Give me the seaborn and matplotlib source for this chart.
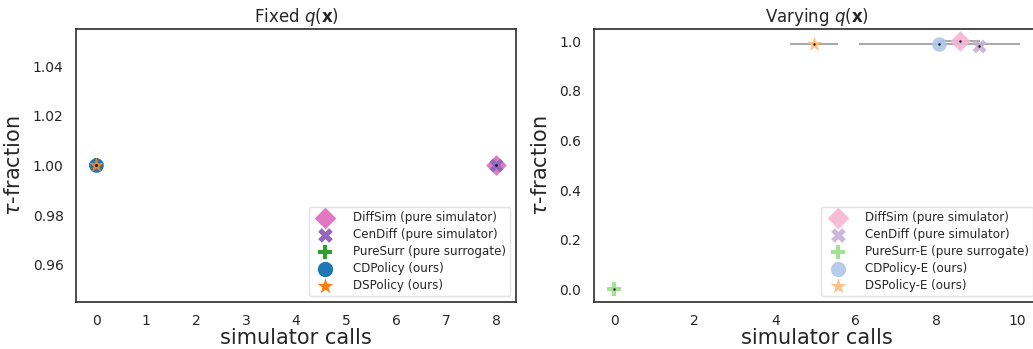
import numpy as np
import pandas as pd
import matplotlib
matplotlib.use("Agg")
import matplotlib.pyplot as plt
import seaborn as sns

# dados
metodos_fixo = ["DiffSim (pure simulator)", "CenDiff (pure simulator)",
                "PureSurr (pure surrogate)", "CDPolicy (ours)", "DSPolicy (ours)"]
x_fixo = [8, 8, 0, 0, 0]
y_fixo = [1.0, 1.0, 1.0, 1.0, 1.0]

metodos_var = ["DiffSim (pure simulator)", "CenDiff (pure simulator)",
               "PureSurr-E (pure surrogate)", "CDPolicy-E (ours)", "DSPolicy-E (ours)"]
x_var = [8.59, 9.06, 0.0, 8.07, 4.96]
y_var = [1.0, 0.981, 0.0, 0.99, 0.99]
xerr_var = [0.5, 0.05, 0.0, 2.0, 0.6]
yerr_var = [0.0, 0.01, 0.0, 0.01, 0.0]

marcadores = ["D", "X", "P", "o", "*"]
cores_fixo = ["#e377c2", "#9467bd", "#2ca02c", "#1f77b4", "#ff7f0e"]
cores_var = ["#f7b6d2", "#c5b0d5", "#98df8a", "#aec7e8", "#ffbb78"]
tamanhos = [110, 100, 100, 110, 130]

sns.set_theme(style="white")
plt.rcParams["font.family"] = ["DejaVu Sans"]

fig = plt.figure(figsize=(10.33, 3.49), dpi=100)
ax1 = fig.add_axes([0.0736, 0.135, 0.426, 0.782])
ax2 = fig.add_axes([0.575, 0.135, 0.431, 0.782])


def painel(ax, metodos, xs, ys, cores, titulo, alpha):
    df = pd.DataFrame({"metodo": metodos, "x": xs, "y": ys})
    for i, m in enumerate(metodos):
        sns.scatterplot(data=df[df["metodo"] == m], x="x", y="y",
                        color=cores[i], marker=marcadores[i], s=tamanhos[i],
                        alpha=alpha, linewidth=0, label=m, ax=ax, zorder=3 + i)
    ax.plot(xs, ys, linestyle="none", marker=".", markersize=1.5, color="k", zorder=10)
    ax.set_title(titulo, fontsize=12, pad=5)
    ax.set_xlabel("simulator calls", fontsize=15, labelpad=0)
    ax.set_ylabel(r"$\tau$-fraction", fontsize=15, labelpad=6)
    ax.tick_params(labelsize=10, pad=3)
    leg = ax.legend(loc="lower right", fontsize=8.6, markerscale=1.05,
                    handletextpad=1.3, borderpad=0.35, labelspacing=0.33)
    leg.get_frame().set_edgecolor("#dddddd")
    for s in ax.spines.values():
        s.set_color("#333333")


painel(ax1, metodos_fixo, x_fixo, y_fixo, cores_fixo, r"Fixed $q(\mathbf{x})$", 1.0)
ax1.set_xlim(-0.4, 8.4)
ax1.set_ylim(0.945, 1.055)
ax1.set_xticks(range(0, 9))
ax1.set_yticks([0.96, 0.98, 1.00, 1.02, 1.04])

ax2.errorbar(x_var, y_var, xerr=xerr_var, yerr=yerr_var, fmt="none",
             ecolor="#555555", elinewidth=1.2, alpha=0.6, zorder=2)
painel(ax2, metodos_var, x_var, y_var, cores_var, r"Varying $q(\mathbf{x})$", 0.9)
ax2.set_xlim(-0.5, 10.55)
ax2.set_ylim(-0.05, 1.05)
ax2.set_xticks([0, 2, 4, 6, 8, 10])
ax2.set_yticks([0.0, 0.2, 0.4, 0.6, 0.8, 1.0])

fig.savefig("out.png", dpi=100)
plt.close(fig)
